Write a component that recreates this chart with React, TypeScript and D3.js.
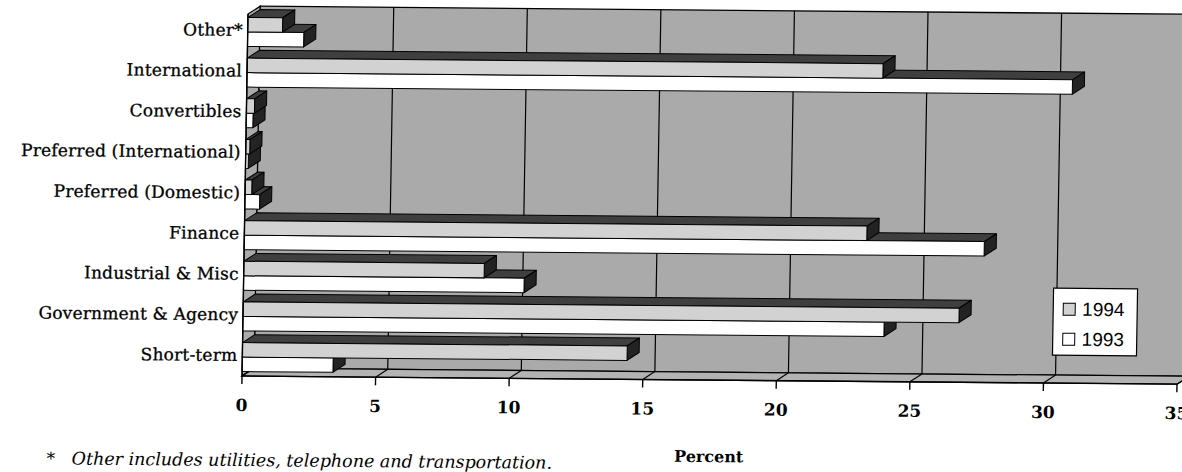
import React from "react";
import * as d3 from "d3";

// Portfolio mix by sector, percent of total
const categories = [
  "Other*",
  "International",
  "Convertibles",
  "Preferred (International)",
  "Preferred (Domestic)",
  "Finance",
  "Industrial & Misc",
  "Government & Agency",
  "Short-term",
];
const values1994 = [1.3, 23.8, 0.3, 0.15, 0.25, 23.3, 9.0, 26.8, 14.4];
const values1993 = [2.1, 30.9, 0.25, 0.1, 0.55, 27.7, 10.5, 24.0, 3.4];
const seriesNames = ["1994", "1993"];
const xTicks = [0, 5, 10, 15, 20, 25, 30, 35];

const W = 1182;
const H = 472;
// 3-D depth offset of the plot box
const DX = 12;
const DY = -8;
const FLOOR_Y = 380;
const WALL_TOP = 10;
const BAR_H = 14.5;
const STEP = 40.64;

const WALL = "#aaaaaa";
const FLOOR = "#b3b3b3";
const TOP_FACE = "#3f3f3f";
const SIDE_FACE = "#232323";
const FILLS = ["#d2d2d2", "#ffffff"];

const serif = "'DejaVu Serif', serif";

function Bar({ x0, x1, y0, fill }: { x0: number; x1: number; y0: number; fill: string }) {
  const y1 = y0 + BAR_H;
  const top = [
    [x0, y0],
    [x0 + DX, y0 + DY],
    [x1 + DX, y0 + DY],
    [x1, y0],
  ];
  const side = [
    [x1, y0],
    [x1 + DX, y0 + DY],
    [x1 + DX, y1 + DY],
    [x1, y1],
  ];
  const pts = (p: number[][]) => p.map((d) => d.join(",")).join(" ");
  return (
    <g stroke="#000" strokeWidth={1} strokeLinejoin="round">
      <polygon points={pts(top)} fill={TOP_FACE} />
      <polygon points={pts(side)} fill={SIDE_FACE} />
      <rect x={x0} y={y0} width={Math.max(0, x1 - x0)} height={BAR_H} fill={fill} />
    </g>
  );
}

export default function App() {
  const x = d3.scaleLinear().domain([0, 35]).range([245, 1180]);
  const y = d3
    .scaleBand<string>()
    .domain(categories)
    .range([15.6, 15.6 + STEP * categories.length])
    .padding(0);

  const x0 = x(0);
  const xEnd = x(35);

  const floor = [
    [x0, FLOOR_Y],
    [xEnd, FLOOR_Y],
    [xEnd + DX, FLOOR_Y + DY],
    [x0 + DX, FLOOR_Y + DY],
  ];
  const leftWall = [
    [x0, WALL_TOP - DY],
    [x0 + DX, WALL_TOP],
    [x0 + DX, FLOOR_Y + DY],
    [x0, FLOOR_Y],
  ];
  const pts = (p: number[][]) => p.map((d) => d.join(",")).join(" ");

  return (
    <svg
      width={W}
      height={H}
      viewBox={`0 0 ${W} ${H}`}
      style={{ position: "absolute", left: 0, top: 0, background: "#fff" }}
    >
      <g transform="translate(700,200) rotate(0.5) skewX(-0.45) translate(-700,-200)">
        {/* back wall */}
        <rect
          x={x0 + DX}
          y={WALL_TOP}
          width={xEnd - x0}
          height={FLOOR_Y + DY - WALL_TOP}
          fill={WALL}
          stroke="#000"
          strokeWidth={1.3}
        />
        {xTicks
          .filter((t) => t > 0)
          .map((t) => (
            <line
              key={"g" + t}
              x1={x(t) + DX}
              x2={x(t) + DX}
              y1={WALL_TOP}
              y2={FLOOR_Y + DY}
              stroke="#000"
              strokeWidth={1.2}
            />
          ))}
        {/* side wall */}
        <polygon points={pts(leftWall)} fill={WALL} stroke="#000" strokeWidth={1.2} />
        {/* floor */}
        <polygon points={pts(floor)} fill={FLOOR} stroke="#000" strokeWidth={1.2} />
        {xTicks.map((t) => (
          <line
            key={"f" + t}
            x1={x(t)}
            y1={FLOOR_Y}
            x2={x(t) + DX}
            y2={FLOOR_Y + DY}
            stroke="#000"
            strokeWidth={1.2}
          />
        ))}

        {/* bars: 1993 below, then 1994 above it */}
        {categories.map((c, i) => {
          const b = (y(c) as number) + STEP / 2;
          return (
            <g key={c}>
              <Bar x0={x0} x1={x(values1993[i])} y0={b} fill={FILLS[1]} />
              <Bar x0={x0} x1={x(values1994[i])} y0={b - BAR_H} fill={FILLS[0]} />
            </g>
          );
        })}

        {/* front axis */}
        <line x1={x0} x2={xEnd} y1={FLOOR_Y} y2={FLOOR_Y} stroke="#000" strokeWidth={1.4} />
        <line x1={x0} x2={x0} y1={WALL_TOP - DY} y2={FLOOR_Y} stroke="#000" strokeWidth={1.4} />
        {xTicks.map((t) => (
          <g key={"t" + t}>
            <line x1={x(t)} x2={x(t)} y1={FLOOR_Y} y2={FLOOR_Y + 8} stroke="#000" strokeWidth={1.4} />
            <text
              x={x(t)}
              y={415}
              textAnchor="middle"
              fontFamily={serif}
              fontWeight="bold"
              fontSize={17}
              fill="#000"
            >
              {t}
            </text>
          </g>
        ))}

        {/* category labels */}
        {categories.map((c) => (
          <text
            key={"l" + c}
            x={240}
            y={(y(c) as number) + STEP / 2 - 2}
            dominantBaseline="central"
            textAnchor="end"
            fontFamily={serif}
            fontSize={17}
            letterSpacing={0.2}
            fill="#000"
            stroke="#000"
            strokeWidth={0.3}
          >
            {c}
          </text>
        ))}

        {/* legend */}
        <g>
          <rect x={1055} y={285} width={84} height={67} fill="#fff" stroke="#000" strokeWidth={1.2} />
          {seriesNames.map((s, i) => (
            <g key={s}>
              <rect
                x={1065}
                y={300 + i * 30}
                width={12}
                height={12}
                fill={FILLS[i]}
                stroke="#000"
                strokeWidth={1}
              />
              <text
                x={1084}
                y={306 + i * 30}
                dominantBaseline="central"
                fontFamily="'Liberation Sans', Arial, sans-serif"
                fontSize={19}
                fill="#000"
              >
                {s}
              </text>
            </g>
          ))}
        </g>

        {/* axis title and footnote */}
        <text x={713} y={462} textAnchor="middle" fontFamily={serif} fontWeight="bold" fontSize={16} fill="#000">
          Percent
        </text>
        <text x={51} y={470} fontFamily={serif} fontSize={17} fill="#000">
          *
        </text>
        <text x={76} y={470} fontFamily={serif} fontStyle="italic" fontSize={17.5} fill="#000">
          Other includes utilities, telephone and transportation.
        </text>
      </g>
    </svg>
  );
}
